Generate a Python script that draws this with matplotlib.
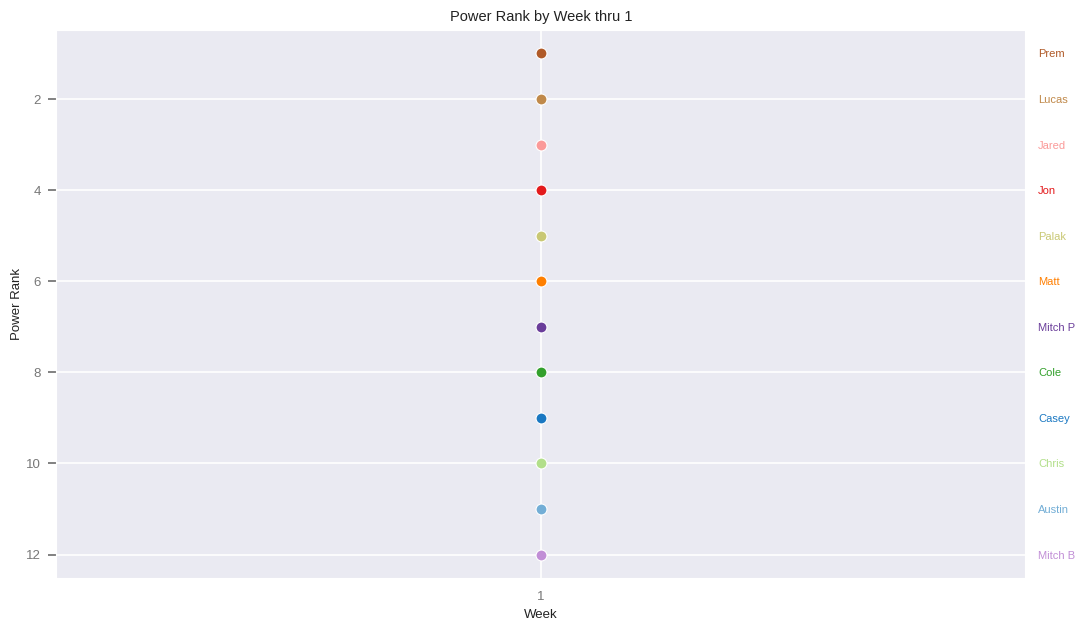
import numpy as np
import matplotlib.pyplot as plt
import seaborn as sns

names = ['Prem', 'Lucas', 'Jared', 'Jon', 'Palak', 'Matt', 'Mitch P', 'Cole',
         'Casey', 'Chris', 'Austin', 'Mitch B']
ranks = [1, 2, 3, 4, 5, 6, 7, 8, 9, 10, 11, 12]
week = [1]
colors = ['#b05a28', '#c0894a', '#fb9a99', '#e31a1c', '#c9c874', '#ff7f00',
          '#6a3d9a', '#33a02c', '#1a78c2', '#b2df8a', '#73aed6', '#c18ed6']

sns.set_style('darkgrid')
plt.rcParams['font.family'] = ['Liberation Sans', 'DejaVu Sans']

fig, ax = plt.subplots(figsize=(10.84, 6.34), dpi=100)
fig.subplots_adjust(left=0.052, right=0.946, top=0.953, bottom=0.088)

for n, r, c in zip(names, ranks, colors):
    ax.scatter(week, [r], s=62, color=c, edgecolor='white', linewidth=0.8, zorder=3)
    ax.text(1.013, r, n, color=c, fontsize=8, va='center_baseline', ha='left',
            transform=ax.get_yaxis_transform())

ax.grid(linewidth=1.2)
ax.set_xlim(0.5, 1.5)
ax.set_xticks(week)
ax.set_ylim(12.52, 0.48)
ax.set_yticks([2, 4, 6, 8, 10, 12])
ax.tick_params(axis='y', left=True, length=6, width=1.3, pad=5,
               color='#777777', labelcolor='#777777', labelsize=9.5)
ax.tick_params(axis='x', bottom=False, pad=6, labelcolor='#777777', labelsize=9.5)
ax.set_xlabel('Week', fontsize=9.5, color='#222222', labelpad=4)
ax.set_ylabel('Power Rank', fontsize=9.5, color='#222222', labelpad=2)
ax.set_title('Power Rank by Week thru 1', fontsize=10.5, color='#222222')

plt.savefig('out.png', dpi=100)
